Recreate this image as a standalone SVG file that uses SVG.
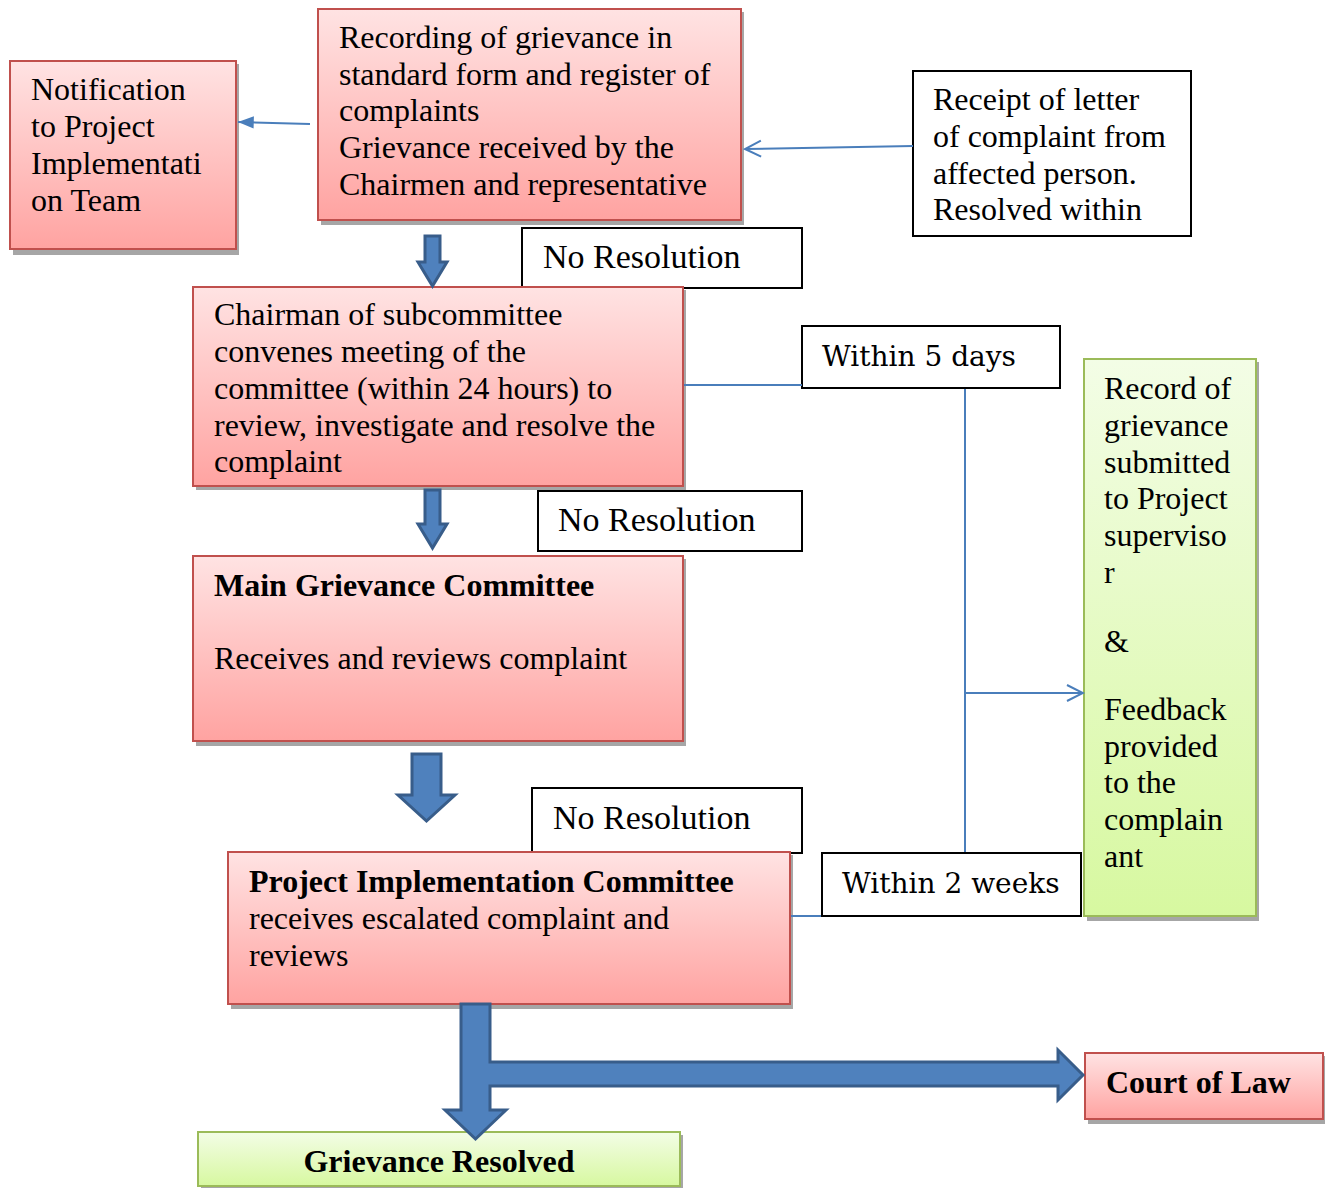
<svg xmlns="http://www.w3.org/2000/svg" width="1325" height="1188" viewBox="0 0 1325 1188">
<defs>
<linearGradient id="red" x1="0" y1="0" x2="0" y2="1">
<stop offset="0" stop-color="#ffe3e3"/><stop offset="1" stop-color="#ffa3a1"/>
</linearGradient>
<linearGradient id="green" x1="0" y1="0" x2="0" y2="1">
<stop offset="0" stop-color="#f3fde6"/><stop offset="1" stop-color="#d7f8a0"/>
</linearGradient>
<marker id="open" viewBox="0 0 20 20" refX="18" refY="10" markerWidth="20" markerHeight="20" markerUnits="userSpaceOnUse" orient="auto">
<path d="M2,2 L18,10 L2,18" fill="none" stroke="#4a7ebb" stroke-width="2"/>
</marker>
<marker id="fill" viewBox="0 0 20 16" refX="18" refY="8" markerWidth="18" markerHeight="14" markerUnits="userSpaceOnUse" orient="auto">
<path d="M0,1 L18,8 L0,15 z" fill="#4a7ebb"/>
</marker>
</defs>
<style>
.r{fill:url(#red);stroke:#c0504d;stroke-width:2}
.g{fill:url(#green);stroke:#9bbb59;stroke-width:2}
.w{fill:#fff;stroke:#000;stroke-width:2}
.sh{fill:#a6a6a6}
.t{font-family:"Liberation Serif","Times New Roman",serif;font-size:32px;fill:#000}
.nr{font-size:34px}
.b{font-weight:bold}
.geo{font-family:"DejaVu Serif","Liberation Serif",serif;font-size:28px;fill:#000}
.ln{fill:none;stroke:#4a7ebb;stroke-width:2}
.ba{fill:#4f81bd;stroke:#385d8a;stroke-width:3}
</style>

<g id="recording">
<rect class="sh" x="321" y="12" width="423" height="213"/>
<rect class="r" x="318" y="9" width="423" height="211"/>
<text class="t" x="339" y="48">Recording of grievance in</text>
<text class="t" x="339" y="85">standard form and register of</text>
<text class="t" x="339" y="121">complaints</text>
<text class="t" x="339" y="158">Grievance received by the</text>
<text class="t" x="339" y="195">Chairmen and representative</text>
</g>

<g id="notification">
<rect class="sh" x="13" y="64" width="226" height="191"/>
<rect class="r" x="10" y="61" width="226" height="188"/>
<text class="t" x="31" y="100">Notification</text>
<text class="t" x="31" y="137">to Project</text>
<text class="t" x="31" y="174">Implementati</text>
<text class="t" x="31" y="211">on Team</text>
</g>

<g id="receipt">
<rect class="w" x="913" y="71" width="278" height="165"/>
<text class="t" x="933" y="110">Receipt of letter</text>
<text class="t" x="933" y="147">of complaint from</text>
<text class="t" x="933" y="184">affected person.</text>
<text class="t" x="933" y="220">Resolved within</text>
</g>

<g id="nores1">
<rect class="w" x="522" y="228" width="280" height="60"/>
<text class="t nr" x="543" y="268">No Resolution</text>
</g>

<g id="chairman">
<rect class="sh" x="196" y="290" width="490" height="200"/>
<rect class="r" x="193" y="287" width="490" height="199"/>
<text class="t" x="214" y="325">Chairman of subcommittee</text>
<text class="t" x="214" y="362">convenes meeting of the</text>
<text class="t" x="214" y="399">committee (within 24 hours) to</text>
<text class="t" x="214" y="436">review, investigate and resolve the</text>
<text class="t" x="214" y="472">complaint</text>
</g>

<g id="within5">
<rect class="w" x="802" y="326" width="258" height="62"/>
<text class="geo" x="822" y="366">Within 5 days</text>
</g>

<g id="nores2">
<rect class="w" x="538" y="491" width="264" height="60"/>
<text class="t nr" x="558" y="531">No Resolution</text>
</g>

<g id="main">
<rect class="sh" x="196" y="559" width="490" height="187"/>
<rect class="r" x="193" y="556" width="490" height="185"/>
<text class="t b" x="214" y="596">Main Grievance Committee</text>
<text class="t" x="214" y="669">Receives and reviews complaint</text>
</g>

<g id="nores3">
<rect class="w" x="532" y="788" width="270" height="65"/>
<text class="t nr" x="553" y="829">No Resolution</text>
</g>

<g id="pic">
<rect class="sh" x="231" y="855" width="562" height="154"/>
<rect class="r" x="228" y="852" width="562" height="152"/>
<text class="t b" x="249" y="892">Project Implementation Committee</text>
<text class="t" x="249" y="929">receives escalated complaint and</text>
<text class="t" x="249" y="966">reviews</text>
</g>

<g id="within2">
<rect class="w" x="822" y="853" width="259" height="63"/>
<text class="geo" x="842" y="893">Within 2 weeks</text>
</g>

<g id="record">
<rect class="sh" x="1087" y="362" width="172" height="559"/>
<rect class="g" x="1084" y="359" width="172" height="557"/>
<text class="t" x="1104" y="399">Record of</text>
<text class="t" x="1104" y="436">grievance</text>
<text class="t" x="1104" y="473">submitted</text>
<text class="t" x="1104" y="509">to Project</text>
<text class="t" x="1104" y="546">superviso</text>
<text class="t" x="1104" y="583">r</text>
<text class="t" x="1104" y="652">&amp;</text>
<text class="t" x="1104" y="720">Feedback</text>
<text class="t" x="1104" y="757">provided</text>
<text class="t" x="1104" y="793">to the</text>
<text class="t" x="1104" y="830">complain</text>
<text class="t" x="1104" y="867">ant</text>
</g>

<g id="resolved">
<rect class="sh" x="201" y="1135" width="482" height="54"/>
<rect class="g" x="198" y="1132" width="482" height="54"/>
<text class="t b" x="439" y="1172" text-anchor="middle">Grievance Resolved</text>
</g>

<g id="court">
<rect class="sh" x="1088" y="1056" width="238" height="68"/>
<rect class="r" x="1085" y="1053" width="238" height="66"/>
<text class="t b" x="1106" y="1093">Court of Law</text>
</g>

<g id="connectors">
<line class="ln" x1="310" y1="124" x2="238" y2="122" marker-end="url(#fill)"/>
<line class="ln" x1="913" y1="146" x2="745" y2="149" marker-end="url(#open)"/>
<line class="ln" x1="684" y1="385" x2="802" y2="385"/>
<line class="ln" x1="965" y1="389" x2="965" y2="852"/>
<line class="ln" x1="965" y1="693" x2="1083" y2="693" marker-end="url(#open)"/>
<line class="ln" x1="791" y1="916" x2="821" y2="916"/>
<path class="ba" d="M425,236 H440 V262 H447 L432.5,286 L418,262 H425 Z"/>
<path class="ba" d="M425,490 H440 V524 H447 L432.5,548 L418,524 H425 Z"/>
<path class="ba" d="M412,754 H441 V795 H455 L426.5,821 L398,795 H412 Z"/>
<path class="ba" d="M461,1004 H490 V1062 H1058 V1050 L1083,1075 L1058,1100 V1086 H490 V1110 H506 L475.5,1139 L445,1110 H461 Z"/>
</g>
</svg>
